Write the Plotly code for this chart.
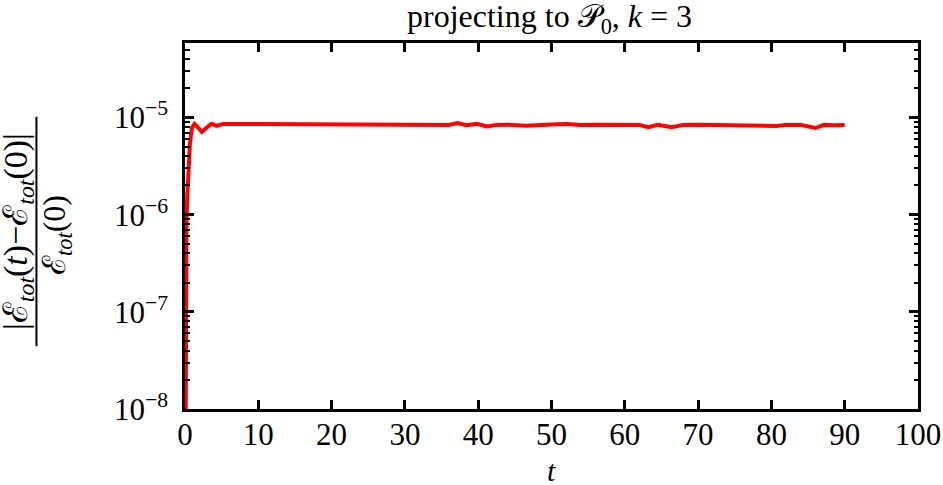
import plotly.graph_objects as go

# ---- data ----
t = [0, 0.04, 0.13, 0.2, 0.3, 0.45, 0.68, 0.95, 1.3, 1.7, 2.3, 2.9, 3.6, 4.3, 5.2,
     10, 20, 30, 35.2, 36, 37.2, 38.4, 39.8, 41.2, 42.5, 44, 46.6, 48, 50, 52, 54,
     56, 58, 60, 62, 63.2, 64.5, 66.4, 68, 70, 72, 74, 76, 78, 80.7, 82, 84, 86,
     87.2, 88.5, 90]
rel_err = [1e-10, 1.2e-8, 2e-7, 8e-7, 1.5e-6, 2.5e-6, 5.5e-6, 7.8e-6, 8.6e-6, 8.0e-6,
           7.1e-6, 7.8e-6, 8.6e-6, 8.2e-6, 8.6e-6,
           8.6e-6, 8.6e-6, 8.6e-6, 8.6e-6, 8.4e-6, 8.75e-6, 8.35e-6, 8.6e-6, 8.1e-6,
           8.4e-6, 8.45e-6, 8.25e-6, 8.4e-6, 8.5e-6, 8.6e-6, 8.4e-6, 8.45e-6, 8.4e-6,
           8.45e-6, 8.4e-6, 7.96e-6, 8.4e-6, 7.96e-6, 8.4e-6, 8.45e-6, 8.4e-6, 8.45e-6,
           8.4e-6, 8.45e-6, 8.2e-6, 8.4e-6, 8.4e-6, 7.8e-6, 8.4e-6, 8.35e-6, 8.4e-6]
x_ticks = [0, 10, 20, 30, 40, 50, 60, 70, 80, 90, 100]
x_range = [0, 100]
y_log_range = [-8, -4.233]
y_major_ticks = [1e-8, 1e-7, 1e-6, 1e-5]
y_major_labels = ["10<sup>−8</sup>", "10<sup>−7</sup>", "10<sup>−6</sup>", "10<sup>−5</sup>"]
y_minor_ticks = [m * 10.0 ** e for e in range(-8, -4) for m in range(2, 10)]

title_text = "projecting to 𝒫<sub>0</sub>, <i>k</i> = 3"
xlabel = "<i>t</i>"
ylab_num = "|ℰ<sub><i>tot</i></sub>(<i>t</i>)−ℰ<sub><i>tot</i></sub>(0)|"
ylab_den = "ℰ<sub><i>tot</i></sub>(0)"

# ---- layout geometry (pixels) ----
W, H = 943, 485
L, R, T, B = 185, 25.3, 43.3, 76.3
pw, ph = W - L - R, H - T - B


def px_to_paper_x(px):
    return (px - L) / pw


def px_to_paper_y(py):
    return (H - B - py) / ph


FONT = "Liberation Serif, Times New Roman, serif"
TICKFONT = dict(family=FONT, size=31, color="black")

fig = go.Figure()
fig.add_trace(go.Scatter(x=t, y=rel_err, mode="lines",
                         line=dict(color="#ff0000", width=4),
                         showlegend=False, hoverinfo="skip"))
# carrier for the minor-tick axis (draws nothing)
fig.add_trace(go.Scatter(x=t, y=rel_err, mode="none", yaxis="y2",
                         showlegend=False, hoverinfo="skip"))

axis_common = dict(showline=True, linecolor="black", linewidth=2.6, mirror="ticks",
                   ticks="inside", tickcolor="black", tickwidth=2.6, ticklen=9,
                   showgrid=False, zeroline=False, tickfont=TICKFONT)

fig.update_layout(
    width=W, height=H,
    margin=dict(l=L, r=R, t=T, b=B, autoexpand=False),
    plot_bgcolor="white", paper_bgcolor="white",
    font=dict(family=FONT, color="black"),
    xaxis=dict(range=x_range, tickvals=x_ticks, ticklabelstandoff=-4, **axis_common),
    yaxis=dict(type="log", range=y_log_range, tickvals=y_major_ticks,
               ticktext=y_major_labels, ticklabelstandoff=8, **axis_common),
    yaxis2=dict(type="log", range=y_log_range, overlaying="y", side="left",
                tickvals=y_minor_ticks, showticklabels=False, ticks="inside",
                ticklen=4.5, tickwidth=2, tickcolor="black", mirror="ticks",
                showline=False, showgrid=False, zeroline=False),
)

# title
fig.add_annotation(text=title_text, xref="paper", yref="paper",
                   x=px_to_paper_x(549), y=px_to_paper_y(19), showarrow=False,
                   xanchor="center", yanchor="middle", borderpad=0,
                   font=dict(family=FONT, size=32, color="black"))
# x-axis label
fig.add_annotation(text=xlabel, xref="paper", yref="paper",
                   x=px_to_paper_x(551), y=px_to_paper_y(470), showarrow=False,
                   xanchor="center", yanchor="middle", borderpad=0,
                   font=dict(family=FONT, size=30, color="black"))
# y-axis label as a stacked fraction
fig.add_annotation(text=ylab_num, textangle=-90, xref="paper", yref="paper",
                   x=px_to_paper_x(18), y=px_to_paper_y(231), showarrow=False,
                   xanchor="center", yanchor="middle",
                   font=dict(family=FONT, size=34, color="black"))
fig.add_annotation(text=ylab_den, textangle=-90, xref="paper", yref="paper",
                   x=px_to_paper_x(56), y=px_to_paper_y(235), showarrow=False,
                   xanchor="center", yanchor="middle",
                   font=dict(family=FONT, size=32, color="black"))
fig.add_shape(type="line", xref="paper", yref="paper",
              x0=px_to_paper_x(36.5), x1=px_to_paper_x(36.5),
              y0=px_to_paper_y(117), y1=px_to_paper_y(346),
              line=dict(color="black", width=2))

fig.write_html("out.html", config={"displayModeBar": False},
               post_script="document.body.style.margin='0';")
